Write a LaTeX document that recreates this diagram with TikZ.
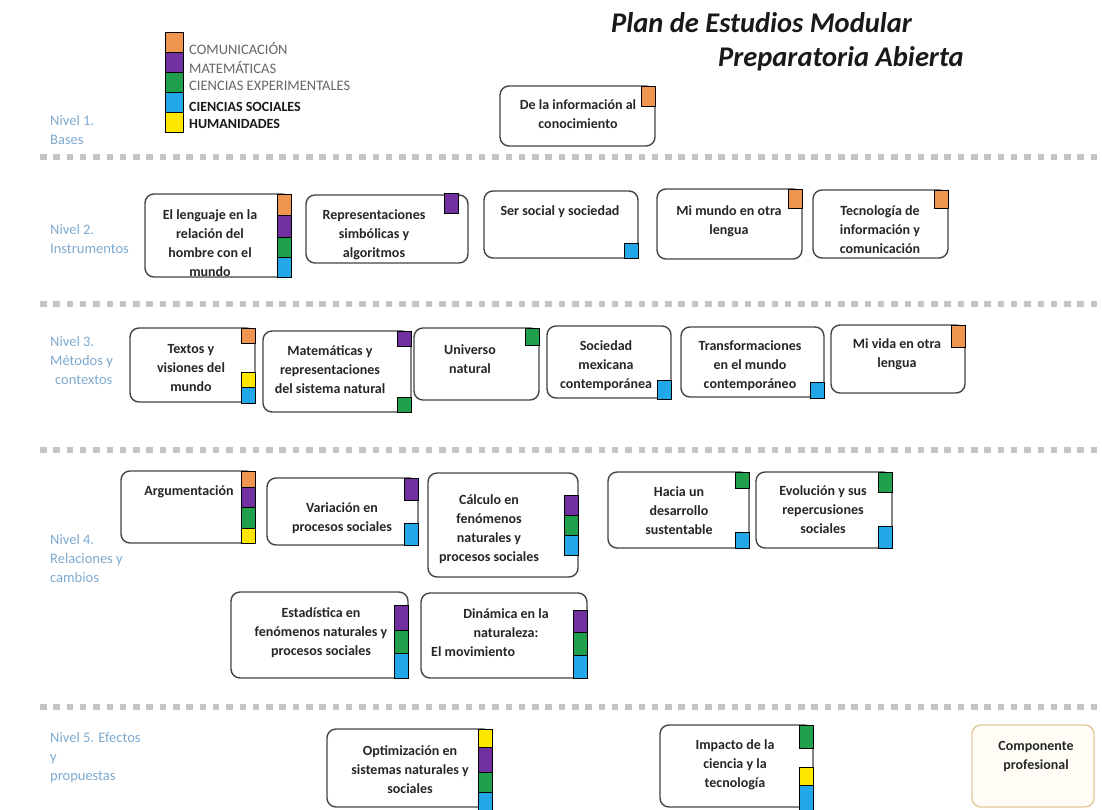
\documentclass[tikz,border=0pt]{standalone}
\usepackage{fontspec}
\setmainfont{Carlito}
\usetikzlibrary{fit}
\definecolor{cOr}{HTML}{F0954F}
\definecolor{cPu}{HTML}{7030A0}
\definecolor{cGr}{HTML}{20A04B}
\definecolor{cBl}{HTML}{22A7E8}
\definecolor{cYe}{HTML}{FFE600}
\definecolor{boxgray}{HTML}{454545}
\definecolor{lvlblue}{HTML}{7EAAD0}
\definecolor{tanb}{HTML}{E2C99E}
\definecolor{cream}{HTML}{FFFDF6}
\definecolor{sepgray}{HTML}{C4C4C4}
\newcommand\mytag[5]{\draw[tagsq, fill=#5] (#1,#2) rectangle (#3,#4);}
\begin{document}
\begin{tikzpicture}[x=1pt,y=-1pt,
  modbox/.style={draw=boxgray, line width=1.4pt, rounded corners=9pt, fill=white, inner sep=0pt},
  profbox/.style={modbox, draw=tanb, fill=cream},
  boxtxt/.style={font=\fontsize{14}{19}\selectfont\bfseries, text=black!85, align=center, inner sep=0pt},
  tagsq/.style={draw=black, line width=0.8pt},
  lvl/.style={font=\fontsize{14.5}{19}\selectfont, text=lvlblue, align=left, anchor=west, inner sep=0pt},
  legA/.style={font=\fontsize{14.5}{16}\selectfont, text=black!60, anchor=west, inner sep=0pt},
  legB/.style={font=\fontsize{14}{16}\selectfont\bfseries, text=black!90, anchor=west, inner sep=0pt},
  sep/.style={draw=sepgray, line width=6pt, dash pattern=on 6.5pt off 6.8pt},
  titletxt/.style={font=\fontsize{28.5}{32}\selectfont\bfseries\itshape, anchor=base west, inner sep=0pt, text=black!90}]
\useasboundingbox (0,0) rectangle (1102,809);
\fill[white] (0,0) rectangle (1102,809);

% title
\node[titletxt] (t1) at (611,32) {Plan de Estudios Modular};
\node[titletxt] (t2) at (718,66) {Preparatoria Abierta};

% legend
\mytag{165}{32}{183}{52}{cOr}
\mytag{165}{52}{183}{72}{cPu}
\mytag{165}{72}{183}{92}{cGr}
\mytag{165}{92}{183}{112}{cBl}
\mytag{165}{112}{183}{132}{cYe}
\node[legA] (lg1) at (189,48) {COMUNICACIÓN};
\node[legA] (lg2) at (189,67) {MATEMÁTICAS};
\node[legA] (lg3) at (189,86) {CIENCIAS EXPERIMENTALES};
\node[legB] (lg4) at (189,107) {CIENCIAS SOCIALES};
\node[legB] (lg5) at (189,124) {HUMANIDADES};

% level labels
\node[lvl] (n1) at (50,130) {Nivel 1.\\Bases};
\node[lvl] (n2) at (50,239) {Nivel 2.\\Instrumentos};
\node[lvl] (n3) at (50,361) {Nivel 3.\\Métodos y\\\hspace*{5pt}contextos};
\node[lvl] (n4) at (50,559) {Nivel 4.\\Relaciones y\\cambios};
\node[lvl] (n5) at (50,758) {Nivel 5. Efectos\\y\\propuestas};

% separators
\coordinate (s1a) at (40,157); \coordinate (s1b) at (1102,157);
\coordinate (s2a) at (40,304); \coordinate (s2b) at (1102,304);
\coordinate (s3a) at (40,450); \coordinate (s3b) at (1102,450);
\coordinate (s4a) at (40,707); \coordinate (s4b) at (1102,707);
\draw[sep] (s1a) -- (s1b);
\draw[sep] (s2a) -- (s2b);
\draw[sep] (s3a) -- (s3b);
\draw[sep] (s4a) -- (s4b);

% Level 1
\node[modbox, fit={(500,86) (655,146)}] (b1) {};
\mytag{641}{86}{655}{106}{cOr}
\node[boxtxt] (b1t) at (578,114) {De la información al\\conocimiento};

% Level 2
\node[modbox, fit={(145,194) (291,277)}] (b2a) {};
\mytag{277}{194}{291}{215}{cOr}
\mytag{277}{215}{291}{237}{cPu}
\mytag{277}{237}{291}{257}{cGr}
\mytag{277}{257}{291}{277}{cBl}
\node[boxtxt] (b2at) at (210,243.5) {El lenguaje en la\\relación del\\hombre con el\\mundo};

\node[modbox, fit={(306,195) (468,263)}] (b2b) {};
\mytag{444}{193}{458}{213}{cPu}
\node[boxtxt] (b2bt) at (374,235) {Representaciones\\simbólicas y\\algoritmos};

\node[modbox, fit={(484,191) (638,258)}] (b2c) {};
\mytag{624}{243}{638}{258}{cBl}
\node[boxtxt] (b2ct) at (560,212) {Ser social y sociedad};

\node[modbox, fit={(657,189) (802,259)}] (b2d) {};
\mytag{788}{189}{802}{208}{cOr}
\node[boxtxt] (b2dt) at (729,221) {Mi mundo en otra\\lengua};

\node[modbox, fit={(813,190) (948,258)}] (b2e) {};
\mytag{934}{190}{948}{208}{cOr}
\node[boxtxt] (b2et) at (880,230) {Tecnología de\\información y\\comunicación};

% Level 3
\node[modbox, fit={(130,328) (255,402)}] (b3a) {};
\mytag{241}{328}{255}{343}{cOr}
\mytag{241}{372}{255}{387}{cYe}
\mytag{241}{387}{255}{403}{cBl}
\node[boxtxt] (b3at) at (191,368) {Textos y\\visiones del\\mundo};

\node[modbox, fit={(263,331) (411,412)}] (b3b) {};
\mytag{397}{331}{411}{346}{cPu}
\mytag{397}{397}{411}{412}{cGr}
\node[boxtxt] (b3bt) at (330,370) {Matemáticas y\\representaciones\\del sistema natural};

\node[modbox, fit={(414,328) (539,400)}] (b3c) {};
\mytag{525}{328}{539}{345}{cGr}
\node[boxtxt] (b3ct) at (470,359) {Universo\\natural};

\node[modbox, fit={(547,326) (671,398)}] (b3d) {};
\mytag{657}{380}{671}{399}{cBl}
\node[boxtxt] (b3dt) at (606,366) {Sociedad\\mexicana\\contemporánea};

\node[modbox, fit={(681,327) (824,397)}] (b3e) {};
\mytag{810}{382}{824}{398}{cBl}
\node[boxtxt] (b3et) at (750,366) {Transformaciones\\en el mundo\\contemporáneo};

\node[modbox, fit={(831,325) (965,393)}] (b3f) {};
\mytag{951}{325}{965}{347}{cOr}
\node[boxtxt] (b3ft) at (897,354) {Mi vida en otra\\lengua};

% Level 4
\node[modbox, fit={(121,471) (255,543)}] (b4a) {};
\mytag{241}{471}{255}{487}{cOr}
\mytag{241}{487}{255}{507}{cPu}
\mytag{241}{507}{255}{528}{cGr}
\mytag{241}{528}{255}{543}{cYe}
\node[boxtxt] (b4at) at (189,492) {Argumentación};

\node[modbox, fit={(267,478) (418,545)}] (b4b) {};
\mytag{404}{478}{418}{500}{cPu}
\mytag{404}{523}{418}{545}{cBl}
\node[boxtxt] (b4bt) at (342,518) {Variación en\\procesos sociales};

\node[modbox, fit={(428,473) (578,577)}] (b4c) {};
\mytag{564}{495}{578}{515}{cPu}
\mytag{564}{515}{578}{535}{cGr}
\mytag{564}{535}{578}{555}{cBl}
\node[boxtxt] (b4ct) at (489,529) {Cálculo en\\fenómenos\\naturales y\\procesos sociales};

\node[modbox, fit={(608,472) (749,548)}] (b4d) {};
\mytag{735}{472}{749}{488}{cGr}
\mytag{735}{532}{749}{548}{cBl}
\node[boxtxt] (b4dt) at (679,511) {Hacia un\\desarrollo\\sustentable};

\node[modbox, fit={(756,472) (892,548)}] (b4e) {};
\mytag{878}{472}{892}{492}{cGr}
\mytag{878}{526}{892}{548}{cBl}
\node[boxtxt] (b4et) at (823,510) {Evolución y sus\\repercusiones\\sociales};

\node[modbox, fit={(231,592) (408,678)}] (b4f) {};
\mytag{394}{605}{408}{630}{cPu}
\mytag{394}{630}{408}{653}{cGr}
\mytag{394}{653}{408}{678}{cBl}
\node[boxtxt] (b4ft) at (321,632.5) {Estadística en\\fenómenos naturales y\\procesos sociales};

\node[modbox, fit={(421,593) (587,678)}] (b4g) {};
\mytag{573}{610}{587}{632}{cPu}
\mytag{573}{632}{587}{655}{cGr}
\mytag{573}{655}{587}{678}{cBl}
\node[boxtxt] (b4gt) at (506,623) {Dinámica en la\\naturaleza:};
\node[boxtxt, anchor=west] (b4gt2) at (431,652) {El movimiento};

% Level 5
\node[modbox, fit={(327,729) (492,807)}] (b5a) {};
\mytag{478}{729}{492}{747}{cYe}
\mytag{478}{747}{492}{772}{cPu}
\mytag{478}{772}{492}{792}{cGr}
\mytag{478}{792}{492}{811}{cBl}
\node[boxtxt] (b5at) at (410,770) {Optimización en\\sistemas naturales y\\sociales};

\node[modbox, fit={(660,725) (813,807)}] (b5b) {};
\mytag{799}{725}{813}{748}{cGr}
\mytag{799}{767}{813}{785}{cYe}
\mytag{799}{785}{813}{811}{cBl}
\node[boxtxt] (b5bt) at (735,765) {Impacto de la\\ciencia y la\\tecnología};

\node[profbox, fit={(972,725) (1094,807)}] (b5c) {};
\node[boxtxt] (b5ct) at (1036,756) {Componente\\profesional};
\end{tikzpicture}
\end{document}
